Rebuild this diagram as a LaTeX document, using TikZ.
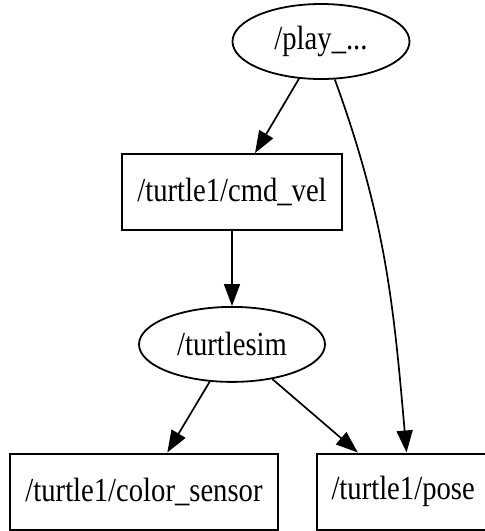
\documentclass[tikz,border=0pt]{standalone}
\usepackage{fontspec}
\setmainfont{Liberation Serif}
\newfontfamily\graphfont[FakeStretch=0.85]{Liberation Serif}
\usetikzlibrary{arrows.meta,positioning,shapes.geometric}
\tikzset{
    %Define standard arrow tip
    >={Triangle[length=22pt,width=16pt]},
    %Define style for topic boxes
    topicrect/.style={
           rectangle,
           draw=black, line width=2pt,
           minimum height=76pt,
           inner xsep=15pt,
           font=\graphfont\fontsize{33.7}{40}\selectfont,
           text centered,
           },
    %Define style for ros nodes
    rosnode/.style={
           ellipse,
           draw=black, line width=1.8pt,
           minimum height=75pt,
           font=\graphfont\fontsize{33.7}{40}\selectfont,
           text centered,
           },
    % Define arrow style
    pil/.style={
           ->,
           line width=1.7pt,},
}
\begin{document}
\begin{tikzpicture}[x=1pt,y=1pt]
\useasboundingbox (0,0) rectangle (485,-531);
\node[rosnode, minimum width=177pt] (play) at (321,-41.5) {/play\_...};
\node[topicrect] (cmd) at (232,-192) {/turtle1/cmd\_vel};
\node[rosnode, minimum width=186pt, below=75pt of cmd] (sim) {/turtlesim};
\node[topicrect] (color) at (144,-491.5) {/turtle1/color\_sensor};
\node[topicrect, right=37pt of color] (pose) {/turtle1/pose};
\path[pil]
	(play) edge (cmd)
	(play) edge[out=-70,in=95] (pose.85)
	(cmd) edge (sim)
	(sim) edge (color) edge (pose);
\end{tikzpicture}
\end{document}
